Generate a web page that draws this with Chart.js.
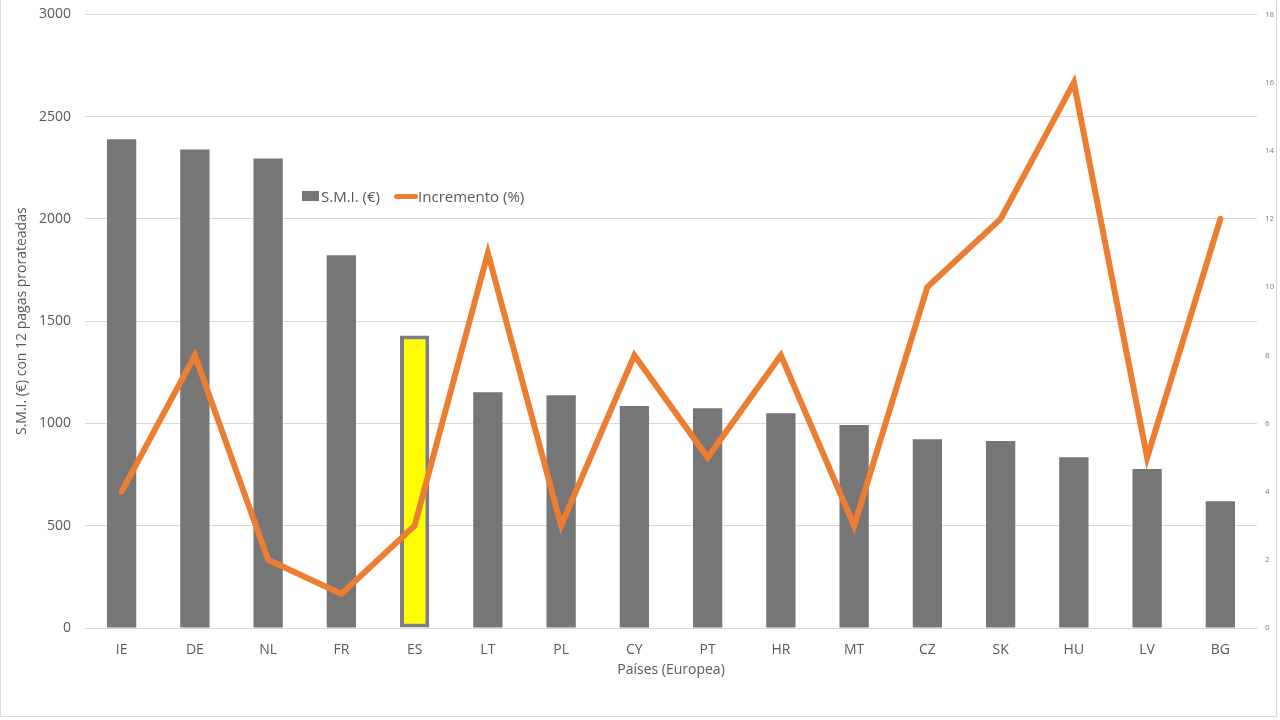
<!DOCTYPE html>
<html>
<head>
<meta charset="utf-8">
<script src="https://cdn.jsdelivr.net/npm/chart.js@4/dist/chart.umd.min.js"></script>
<style>
  html, body { margin: 0; padding: 0; background: #ffffff; overflow: hidden; }
  #wrap { position: relative; width: 1280px; height: 720px; overflow: hidden; }
  #c { position: absolute; left: 0; top: -8px; }
  #frame { position: absolute; left: 0; top: -1px; width: 1277px; height: 718px; border: 1px solid #d9d9d9; box-sizing: border-box; pointer-events: none; }
  #legend { position: absolute; left: 302px; top: 186px; font-family: "Open Sans", sans-serif; font-size: 15px; color: #595959; display: flex; align-items: center; white-space: nowrap; }
  #legend .sw1 { display: inline-block; width: 17px; height: 10px; background: #767676; margin-right: 2px; }
  #legend .sw2 { display: inline-block; width: 24px; height: 5px; background: #ED7D31; border-radius: 3px; margin-left: 14px; margin-right: 0px; }
</style>
</head>
<body>
<div id="wrap">
  <canvas id="c" width="1280" height="728"></canvas>
  <div id="frame"></div>
  <div id="legend"><span class="sw1"></span><span>S.M.I. (€)</span><span class="sw2"></span><span>Incremento (%)</span></div>
</div>
<script>
const categories = ["IE","DE","NL","FR","ES","LT","PL","CY","PT","HR","MT","CZ","SK","HU","LV","BG"];
const smiValues = [2390, 2340, 2295, 1822, 1430, 1153, 1138, 1085, 1075, 1050, 992, 923, 914, 835, 777, 620];
const incrementoValues = [4, 8, 2, 1, 3, 11, 3, 8, 5, 8, 3, 10, 12, 16, 5, 12];
const leftTicks = [0, 500, 1000, 1500, 2000, 2500, 3000];
const rightTicks = [0, 2, 4, 6, 8, 10, 12, 14, 16, 18];
const highlightCategory = "ES";

const barColors = categories.map(c => c === highlightCategory ? "#FFFF00" : "#767676");
const barBorders = categories.map(c => c === highlightCategory ? "#7f7f7f" : "#767676");
const barBorderWidths = categories.map(c => c === highlightCategory ? 4 : 0);

new Chart(document.getElementById("c"), {
  data: {
    labels: categories,
    datasets: [
      {
        type: "line",
        label: "Incremento (%)",
        data: incrementoValues,
        yAxisID: "y2",
        borderColor: "#ED7D31",
        backgroundColor: "#ED7D31",
        borderWidth: 6,
        pointRadius: 0,
        tension: 0,
        borderJoinStyle: "miter",
        borderCapStyle: "round",
        order: 0
      },
      {
        type: "bar",
        label: "S.M.I. (€)",
        data: smiValues,
        yAxisID: "y",
        backgroundColor: barColors,
        borderColor: barBorders,
        borderWidth: barBorderWidths,
        borderSkipped: false,
        categoryPercentage: 1,
        barPercentage: 0.4,
        order: 1
      }
    ]
  },
  options: {
    responsive: false,
    animation: false,
    layout: { padding: { top: 6, bottom: 42, left: 14, right: 0 } },
    plugins: { legend: { display: false }, tooltip: { enabled: false } },
    scales: {
      x: {
        grid: { display: false },
        border: { display: true, color: "#d9d9d9", width: 1 },
        ticks: { color: "#595959", font: { family: "Open Sans", size: 14 }, padding: 6 },
        title: { display: true, text: "Países (Europea)", color: "#595959", font: { family: "Open Sans", size: 14 }, padding: { top: 0, bottom: 0 } },
        afterFit: s => { s.height = 50; }
      },
      y: {
        position: "left",
        min: 0, max: 3000,
        afterBuildTicks: s => { s.ticks = leftTicks.map(v => ({ value: v })); },
        grid: { color: "#d9d9d9", drawTicks: false },
        border: { display: false },
        ticks: { color: "#595959", font: { family: "Open Sans", size: 14 }, padding: 14, callback: v => String(v) },
        title: { display: true, text: "S.M.I. (€) con 12 pagas prorateadas", color: "#595959", font: { family: "Liberation Sans Narrow, Open Sans", size: 14 }, padding: { bottom: 0, top: 0 } },
        afterFit: s => { s.width = 71; }
      },
      y2: {
        position: "right",
        min: 0, max: 18,
        afterBuildTicks: s => { s.ticks = rightTicks.map(v => ({ value: v })); },
        grid: { display: false, drawTicks: false },
        border: { display: false },
        ticks: { color: "#7f7f7f", font: { family: "Open Sans", size: 8 }, padding: 8, callback: v => String(v) },
        afterFit: s => { s.width = 23; }
      }
    }
  }
});
</script>
</body>
</html>
